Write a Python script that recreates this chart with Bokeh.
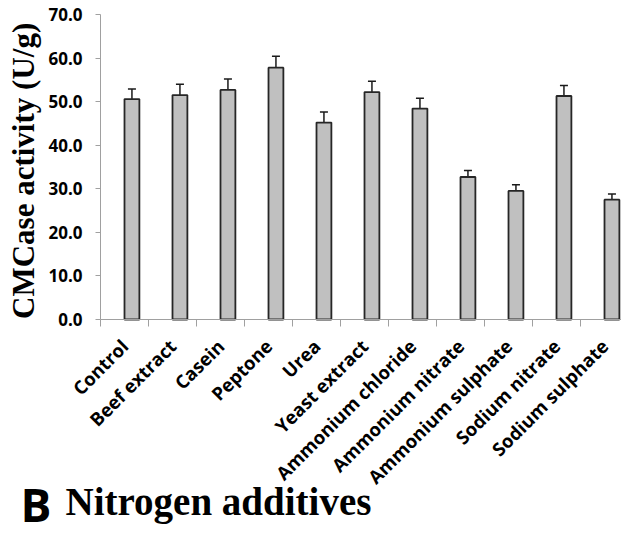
import math
from bokeh.plotting import figure
from bokeh.models import (ColumnDataSource, Whisker, TeeHead, FixedTicker,
                          NumeralTickFormatter, Label, Range1d)
from bokeh.transform import dodge
from bokeh.embed import file_html
from bokeh.resources import INLINE

categories = ["Control", "Beef extract", "Casein", "Peptone", "Urea",
              "Yeast extract", "Ammonium chloride", "Ammonium nitrate",
              "Ammonium sulphate", "Sodium nitrate", "Sodium sulphate"]
activity = [50.6, 51.5, 52.7, 57.8, 45.2, 52.2, 48.4, 32.7, 29.5, 51.3, 27.5]
error = [2.3, 2.5, 2.5, 2.6, 2.4, 2.5, 2.4, 1.5, 1.4, 2.4, 1.3]
y_ticks = [0, 10, 20, 30, 40, 50, 60, 70]

idx = list(range(len(categories)))
src = ColumnDataSource(dict(
    x=idx, y=activity,
    upper=[a + e for a, e in zip(activity, error)],
    lower=[a - e for a, e in zip(activity, error)],
))

W, H = 621, 533
X0, X1 = -2.5833, 10.354
Y0, Y1 = -49.115, 73.213

p = figure(width=W, height=H, output_backend="svg", toolbar_location=None,
           x_range=Range1d(X0, X1), y_range=Range1d(Y0, Y1),
           min_border=0, min_border_left=0, min_border_right=0,
           min_border_top=0, min_border_bottom=0)
p.outline_line_color = None
p.grid.visible = False
p.background_fill_color = "white"

BAR_W = 0.31
p.vbar(x=dodge("x", BAR_W / 2), top="y", bottom=0, width=BAR_W, source=src,
       fill_color="#c0c0c0", line_color="#262626", line_width=1.8)

wh = Whisker(base=dodge("x", BAR_W / 2), upper="upper", lower="lower",
             source=src, dimension="height", line_color="#1a1a1a", line_width=1.5,
             upper_head=TeeHead(size=8, line_color="#1a1a1a", line_width=1.5),
             lower_head=TeeHead(size=8, line_color="#1a1a1a", line_width=1.5))
p.add_layout(wh)

# x axis (drawn at y = 0 inside the plotting area)
xa = p.xaxis[0]
xa.fixed_location = 0
xa.bounds = (-0.5, X1)
xa.ticker = FixedTicker(ticks=idx, minor_ticks=[i - 0.5 for i in idx] + [10.5])
xa.major_label_overrides = {i: c for i, c in zip(idx, categories)}
xa.major_label_orientation = math.pi / 4
xa.major_label_text_font = "Open Sans"
xa.major_label_text_font_style = "bold"
xa.major_label_text_font_size = "18.5px"
xa.major_label_text_color = "black"
xa.major_label_standoff = 16
xa.major_tick_out = 0
xa.major_tick_in = 0
xa.minor_tick_out = 7
xa.minor_tick_in = 0
xa.minor_tick_line_color = "#a0a0a0"
xa.axis_line_color = "#a0a0a0"

# y axis (drawn at x = -0.5)
ya = p.yaxis[0]
ya.fixed_location = -0.5
ya.bounds = (0, 70)
ya.ticker = FixedTicker(ticks=y_ticks)
ya.formatter = NumeralTickFormatter(format="0.0")
ya.major_label_text_font = "Open Sans"
ya.major_label_text_font_style = "bold"
ya.major_label_text_font_size = "17px"
ya.major_label_text_color = "black"
ya.major_label_standoff = 13
ya.major_tick_out = 5
ya.major_tick_in = 0
ya.minor_tick_out = 0
ya.minor_tick_in = 0
ya.major_tick_line_color = "#a0a0a0"
ya.axis_line_color = "#a0a0a0"
ya.axis_label = "CMCase activity  (U/g)"
ya.axis_label_text_font = "Liberation Serif"
ya.axis_label_text_font_style = "bold"
ya.axis_label_text_font_size = "31px"
ya.axis_label_text_color = "black"
ya.axis_label_standoff = 4

p.add_layout(Label(x=65, y=32, x_units="screen", y_units="screen",
                   text="Nitrogen additives", text_font="Liberation Serif",
                   text_font_style="bold", text_font_size="39px",
                   text_color="black", text_baseline="alphabetic"))
p.add_layout(Label(x=20, y=30, x_units="screen", y_units="screen",
                   text="B", text_font="Open Sans", text_font_style="bold",
                   text_font_size="46px", text_color="black",
                   text_baseline="alphabetic"))

open("out.html", "w").write(file_html(p, INLINE))
